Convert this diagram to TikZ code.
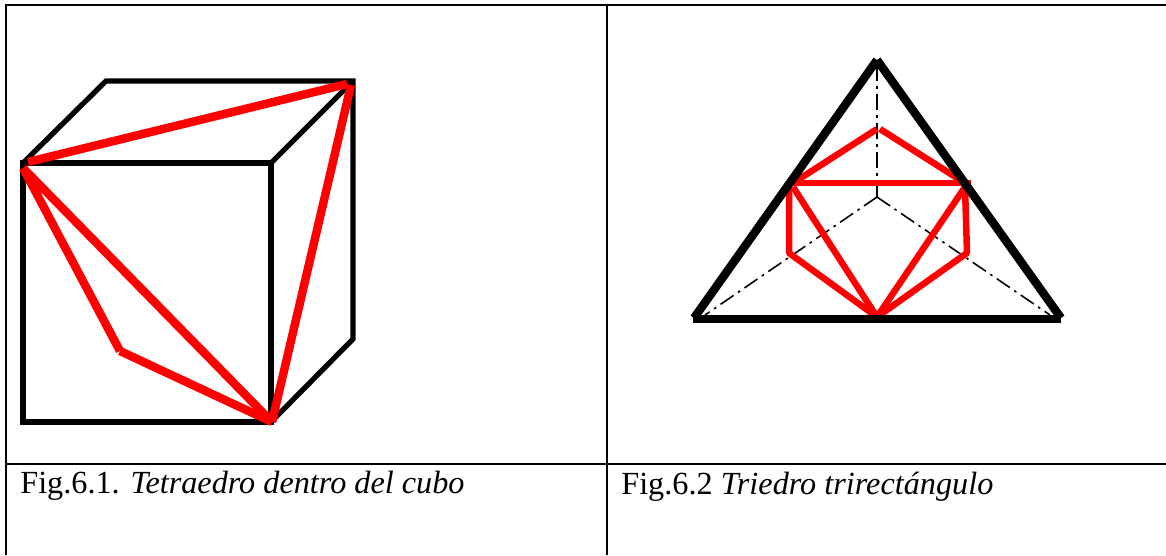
\documentclass[tikz,border=0pt]{standalone}
\usepackage{fontspec}
\setmainfont{Liberation Serif}

\begin{document}
\begin{tikzpicture}[x=0.02cm, y=-0.02cm,
                    tabla/.style={line width=1.2pt},
                    cubo/.style={line width=3pt, line join=miter},
                    rojo/.style={line width=4.8pt, red},
                    rojofino/.style={line width=3.7pt, red, line join=bevel},
                    borde/.style={line width=4.8pt},
                    eje/.style={line width=0.9pt, dash pattern=on 9pt off 3pt on 1.5pt off 3pt},
                    pie/.style={anchor=base west, inner sep=0pt, font=\fontsize{18.35}{22}\selectfont}]
                    \useasboundingbox (0,0) rectangle (1166,555);

                    % tabla
                    \coordinate (t1) at (6,5);
                    \coordinate (t2) at (1166,5);
                    \coordinate (t3) at (6,555);
                    \coordinate (t4) at (607,5);
                    \coordinate (t5) at (607,555);
                    \coordinate (t6) at (6,464);
                    \coordinate (t7) at (1166,464);
                    \draw[tabla] (t2) -- (t1) -- (t3);
                    \draw[tabla] (t4) -- (t5);
                    \draw[tabla] (t6) -- (t7);

                    % cubo
                    \coordinate (a) at (23,163);
                    \coordinate (b) at (271,163);
                    \coordinate (c) at (271,422);
                    \coordinate (d) at (23,422);
                    \coordinate (e) at (106,81);
                    \coordinate (f) at (353,81);
                    \coordinate (g) at (353,339);
                    \draw[cubo] (a) -- (b) -- (c) -- (d) -- cycle;
                    \draw[cubo] (a) -- (e) -- (f) -- (g) -- (c);
                    \draw[cubo] (b) -- (f);

                    % tetraedro
                    \coordinate (p) at (120,351);
                    \coordinate (a1) at (28,162);
                    \coordinate (a2) at (23,168);
                    \coordinate (f1) at (347,84);
                    \coordinate (f2) at (351,85);
                    \coordinate (c1) at (272,422);
                    \draw[rojo] (a1) -- (f1);
                    \draw[rojo] (f2) -- (c1);
                    \draw[rojo] (a2) -- (c1);
                    \draw[rojo] (a2) -- (p);
                    \draw[rojo] (p) -- (c1);

                    % triedro
                    \coordinate (o) at (877,197);
                    \coordinate (v) at (877,60);
                    \coordinate (w1) at (705,315);
                    \coordinate (w2) at (1050,315);
                    \coordinate (l) at (694,318);
                    \coordinate (r) at (1061,318);
                    \coordinate (l1) at (693,319);
                    \coordinate (r1) at (1061,319);
                    \draw[eje] (o) -- (v);
                    \draw[eje] (o) -- (w1);
                    \draw[eje] (o) -- (w2);

                    % hexagono
                    \coordinate (h1) at (877,129);
                    \coordinate (h1b) at (880,129);
                    \coordinate (h2) at (793,183);
                    \coordinate (h3) at (971,183);
                    \coordinate (h4) at (789,187);
                    \coordinate (h5) at (789,253);
                    \coordinate (h6) at (967,253);
                    \coordinate (h7) at (965,187);
                    \coordinate (h7b) at (965,183);
                    \coordinate (h8) at (877,317);
                    \coordinate (h9) at (793,187);
                    \draw[rojofino] (h2) -- (h1);
                    \draw[rojofino] (h1b) -- (h7b);
                    \draw[rojofino] (h2) -- (h3);
                    \draw[rojofino] (h4) -- (h5) -- (h8);
                    \draw[rojofino] (h9) -- (h8) -- (h7);
                    \draw[rojofino] (h7) -- (h6) -- (h8);

                    \draw[borde] (l) -- (v);
                    \draw[borde] (v) -- (r);
                    \draw[borde] (l1) -- (r1);

                    \node[pie] (pie1) at (20,493) {Fig.6.1. \textit{Tetraedro dentro del cubo}};
                    \node[pie] (pie2) at (621,494) {Fig.6.2 \textit{Triedro trirectángulo}};
                \end{tikzpicture}
\end{document}
